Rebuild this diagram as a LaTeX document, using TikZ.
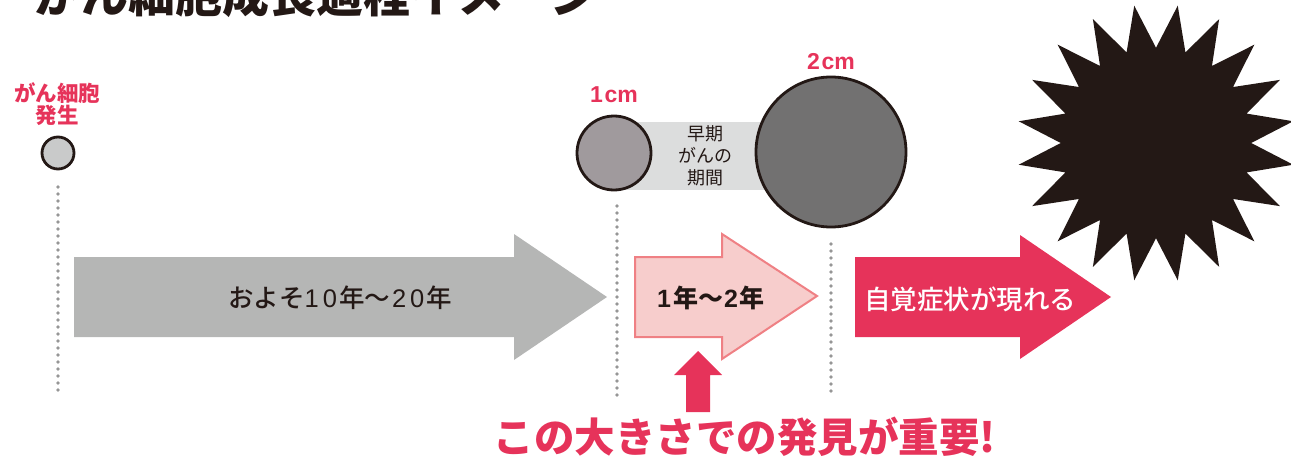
\documentclass[tikz,border=0pt]{standalone}
\usepackage{fontspec}
\setmainfont{Noto Sans CJK JP}
\newfontfamily\jpmed{Noto Sans CJK JP Medium}
\newfontfamily\lat{Liberation Sans}
\usetikzlibrary{shapes.geometric}
\definecolor{jred}{RGB}{230,51,90}
\definecolor{pinkfill}{RGB}{247,205,204}
\definecolor{pinkline}{RGB}{239,128,132}
\definecolor{arrgray}{RGB}{181,182,181}
\definecolor{bandgray}{RGB}{220,221,221}
\definecolor{c0}{RGB}{201,202,202}
\definecolor{c1}{RGB}{160,154,157}
\definecolor{c2}{RGB}{114,113,113}
\definecolor{ink}{RGB}{35,24,21}
\definecolor{dotgray}{RGB}{150,150,150}
\tikzset{
  cell/.style={circle, draw=ink, line width=2.8pt, inner sep=0pt},
  dotline/.style={draw=dotgray, line width=3.6pt, line cap=round, dash pattern=on 0pt off 7pt},
  redlabel/.style={text=jred, align=center, inner sep=0pt},
  arrlabel/.style={inner sep=0pt, text=ink},
}
\begin{document}
\begin{tikzpicture}[x=1pt,y=-1pt]
\useasboundingbox (0,0) rectangle (1291,460);
\begin{scope}
\clip (0,0) rectangle (1291,460);
% title (cut off at top)
\node[anchor=base west, inner sep=0pt, text=ink, font=\fontsize{47}{50}\selectfont\bfseries] (title) at (34,13) {がん細胞成長過程イメージ};
\end{scope}

% dotted guide lines
\coordinate (d0a) at (58,187); \coordinate (d0b) at (58,397);
\coordinate (d1a) at (617,206); \coordinate (d1b) at (617,397);
\coordinate (d2a) at (831,244); \coordinate (d2b) at (831,397);
\draw[dotline] (d0a) -- (d0b);
\draw[dotline] (d1a) -- (d1b);
\draw[dotline] (d2a) -- (d2b);

% cells
\node[cell, fill=c0, minimum size=32pt] (cell0) at (58,153) {};
\node[redlabel, font=\fontsize{21.5}{22}\selectfont\bfseries] (lab0) at (57,104) {がん細胞\\発生};

\fill[bandgray] (614,122) rectangle (780,190);
\node[cell, fill=c1, minimum size=74pt] (cell1) at (614,153) {};
\node[cell, fill=c2, minimum size=150pt] (cell2) at (831,152) {};
\node[redlabel, font=\fontsize{23}{24}\lat\bfseries] (lab1) at (614,95) {1\hspace{1.5pt}cm};
\node[redlabel, font=\fontsize{23}{24}\lat\bfseries] (lab2) at (831,62) {2\hspace{1.5pt}cm};
\node[inner sep=0pt, text=ink, align=center, font=\fontsize{18}{22}\selectfont] (early) at (705,156) {早期\\がんの\\期間};

% star
\node[star, star points=20, star point ratio=1.46, minimum size=278pt, inner sep=0pt, fill=ink, shape border rotate=9] (burst) at (1156,143) {};

% gray arrow
\fill[arrgray] (74,257) -- (514,257) -- (514,234) -- (607,297) -- (514,360) -- (514,337) -- (74,337) -- cycle;
\node[arrlabel, font=\fontsize{25.5}{27}\jpmed] (t1) at (340,298) {およそ{\lat 1\hspace{4pt}0\hspace{2pt}}年～{\lat\hspace{2pt}2\hspace{4pt}0\hspace{2pt}}年};

% pink arrow
\draw[fill=pinkfill, draw=pinkline, line width=2pt, line join=miter] (635,257) -- (722,257) -- (722,234) -- (817,296) -- (722,359) -- (722,337) -- (635,337) -- cycle;
\node[arrlabel, font=\fontsize{25}{27}\selectfont\bfseries] (t2) at (711,298) {{\lat\bfseries 1\hspace{2pt}}年～{\lat\bfseries\hspace{1pt}2\hspace{2pt}}年};

% red arrow
\fill[jred] (855,257) -- (1020,257) -- (1020,235) -- (1111,297) -- (1020,359) -- (1020,337) -- (855,337) -- cycle;
\node[arrlabel, text=white, font=\fontsize{26.5}{28}\jpmed] (t3) at (970,299) {自覚症状が現れる};

% up arrow
\fill[jred] (686,412) -- (686,375) -- (674,375) -- (698,351) -- (722,375) -- (710,375) -- (710,412) -- cycle;
\node[inner sep=0pt, text=jred, font=\fontsize{40.5}{44}\selectfont\bfseries] (msg) at (745,437) {この大きさでの発見が重要!};
\end{tikzpicture}
\end{document}
